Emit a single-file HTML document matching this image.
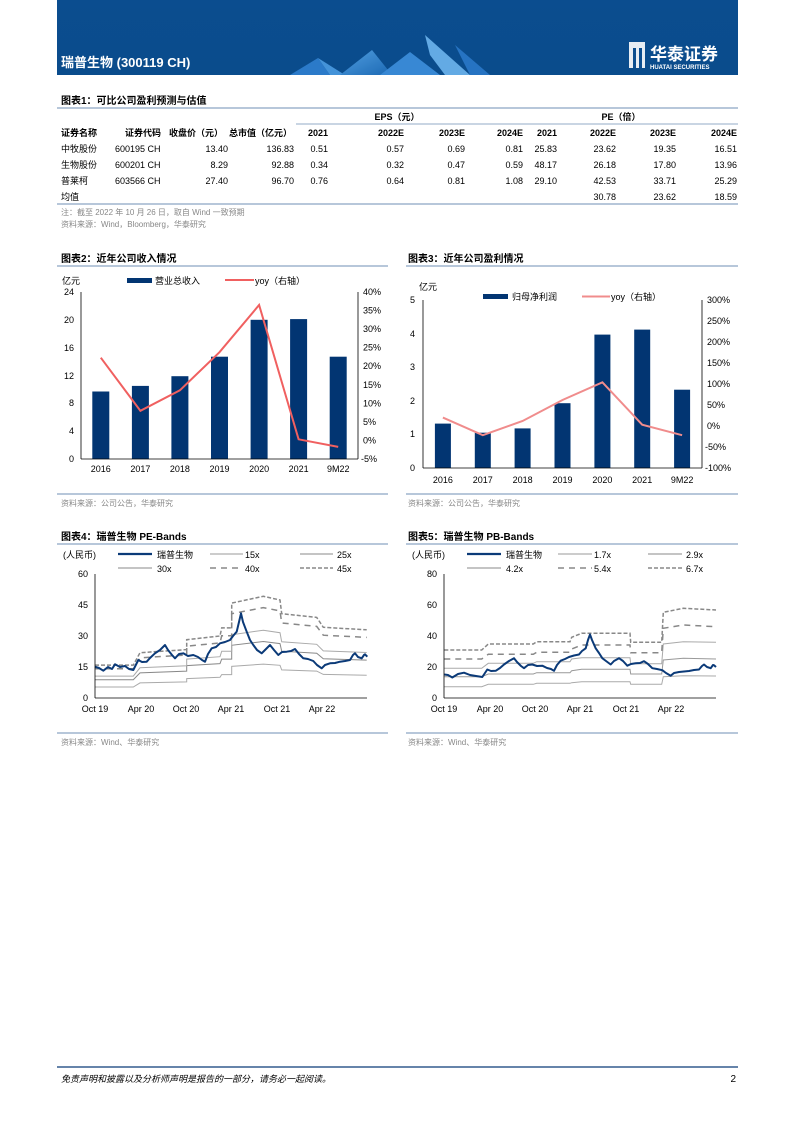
<!DOCTYPE html>
<html><head><meta charset="utf-8"><style>
body{margin:0;background:#fff;}
svg text{font-family:"Liberation Sans","Noto Sans CJK SC",sans-serif;}
</style></head><body>
<svg width="793" height="1122" viewBox="0 0 793 1122" xmlns="http://www.w3.org/2000/svg">
<defs>
<linearGradient id="bg" x1="0" y1="0" x2="0" y2="1"><stop offset="0" stop-color="#0b4d8f"/><stop offset="1" stop-color="#0a4c8c"/></linearGradient>
<linearGradient id="mt" x1="0" y1="0" x2="1" y2="1"><stop offset="0" stop-color="#5aa8ea"/><stop offset="1" stop-color="#1d6cb8"/></linearGradient>
</defs>
<rect x="57" y="0" width="681" height="75" fill="url(#bg)"/>
<g opacity="0.9">
<polygon points="290,75 318,58 330,75" fill="#2f7fd0"/>
<polygon points="318,58 345,75 330,75" fill="#4b9be2"/>
<polygon points="340,75 372,50 392,75" fill="url(#mt)"/>
<polygon points="380,75 410,52 440,75" fill="#3d8fdc"/>
<polygon points="425,35 470,75 445,75 430,55" fill="#6db5ee"/>
<polygon points="455,45 490,75 470,75" fill="#2a78c8"/>
</g>
<text x="61" y="67" fill="#fff" font-size="13" font-weight="bold">瑞普生物 (300119 CH)</text>
<rect x="629" y="42" width="16" height="26" fill="#fff" opacity="0.9"/>
<rect x="633" y="48" width="3" height="20" fill="#0b4d8f"/><rect x="639" y="48" width="3" height="20" fill="#0b4d8f"/>
<text x="650" y="60" fill="#fff" font-size="17" font-weight="bold">华泰证券</text>
<text x="650" y="69" fill="#fff" font-size="6" font-weight="bold">HUATAI SECURITIES</text>

<!-- table -->
<text x="61" y="104" font-size="10" font-weight="bold">图表1：可比公司盈利预测与估值</text>
<line x1="57" y1="108" x2="738" y2="108" stroke="#6f8fb5" stroke-width="1"/>
<g font-size="9" fill="#000">
<text x="397" y="120" text-anchor="middle" font-weight="bold">EPS（元）</text>
<text x="621" y="120" text-anchor="middle" font-weight="bold">PE（倍）</text>
<line x1="296" y1="124" x2="738" y2="124" stroke="#6f8fb5" stroke-width="0.8"/>
<g font-weight="bold">
<text x="61" y="136">证券名称</text><text x="125" y="136">证券代码</text><text x="169" y="136">收盘价（元）</text><text x="229" y="136">总市值（亿元）</text>
</g>
<g text-anchor="end" font-weight="bold">
<text x="328" y="136">2021</text><text x="404" y="136">2022E</text><text x="465" y="136">2023E</text><text x="523" y="136">2024E</text>
<text x="557" y="136">2021</text><text x="616" y="136">2022E</text><text x="676" y="136">2023E</text><text x="737" y="136">2024E</text>
</g>
<text x="61" y="152">中牧股份</text><text x="115" y="152">600195 CH</text>
<text x="61" y="168">生物股份</text><text x="115" y="168">600201 CH</text>
<text x="61" y="184">普莱柯</text><text x="115" y="184">603566 CH</text>
<text x="61" y="200">均值</text>
<g text-anchor="end">
<text x="228" y="152">13.40</text><text x="294" y="152">136.83</text><text x="328" y="152">0.51</text><text x="404" y="152">0.57</text><text x="465" y="152">0.69</text><text x="523" y="152">0.81</text><text x="557" y="152">25.83</text><text x="616" y="152">23.62</text><text x="676" y="152">19.35</text><text x="737" y="152">16.51</text>
<text x="228" y="168">8.29</text><text x="294" y="168">92.88</text><text x="328" y="168">0.34</text><text x="404" y="168">0.32</text><text x="465" y="168">0.47</text><text x="523" y="168">0.59</text><text x="557" y="168">48.17</text><text x="616" y="168">26.18</text><text x="676" y="168">17.80</text><text x="737" y="168">13.96</text>
<text x="228" y="184">27.40</text><text x="294" y="184">96.70</text><text x="328" y="184">0.76</text><text x="404" y="184">0.64</text><text x="465" y="184">0.81</text><text x="523" y="184">1.08</text><text x="557" y="184">29.10</text><text x="616" y="184">42.53</text><text x="676" y="184">33.71</text><text x="737" y="184">25.29</text>
<text x="616" y="200">30.78</text><text x="676" y="200">23.62</text><text x="737" y="200">18.59</text>
</g>
</g>
<line x1="57" y1="204" x2="738" y2="204" stroke="#6f8fb5" stroke-width="1"/>
<text x="61" y="215" font-size="8" fill="#888">注：截至 2022 年 10 月 26 日，取自 Wind 一致预期</text>
<text x="61" y="227" font-size="8" fill="#888">资料来源：Wind，Bloomberg，华泰研究</text>

<!-- chart 2 -->
<text x="61" y="262" font-size="10" font-weight="bold">图表2：近年公司收入情况</text>
<line x1="57" y1="266" x2="388" y2="266" stroke="#6f8fb5" stroke-width="1"/>
<g font-size="9">
<text x="62" y="284">亿元</text>
<rect x="127" y="278" width="25" height="5" fill="#023572"/><text x="155" y="284">营业总收入</text>
<line x1="225" y1="280" x2="254" y2="280" stroke="#f06060" stroke-width="2"/><text x="255" y="284">yoy（右轴）</text>
</g>
<g fill="#023572">
<rect x="92.3" y="391.5" width="17" height="67.5"/><rect x="131.9" y="385.9" width="17" height="73.1"/><rect x="171.4" y="376.2" width="17" height="82.8"/><rect x="211" y="356.7" width="17" height="102.3"/><rect x="250.6" y="319.8" width="17" height="139.2"/><rect x="290.1" y="319.1" width="17" height="139.9"/><rect x="329.7" y="356.7" width="17" height="102.3"/>
</g>
<polyline points="100.8,357.7 140.4,410.8 179.9,390.3 219.5,352.2 259.1,305 298.6,439.3 338.2,446.9" fill="none" stroke="#f06060" stroke-width="2"/>
<g stroke="#000" stroke-width="0.8">
<line x1="81" y1="292" x2="81" y2="459"/><line x1="358" y1="292" x2="358" y2="459"/><line x1="81" y1="459" x2="358" y2="459"/>
</g>
<g font-size="9" text-anchor="end">
<text x="74" y="295">24</text><text x="74" y="323">20</text><text x="74" y="351">16</text><text x="74" y="379">12</text><text x="74" y="406">8</text><text x="74" y="434">4</text><text x="74" y="462">0</text>
</g>
<g font-size="9">
<text x="363" y="295">40%</text><text x="363" y="313.6">35%</text><text x="363" y="332.1">30%</text><text x="363" y="350.7">25%</text><text x="363" y="369.2">20%</text><text x="363" y="387.8">15%</text><text x="363" y="406.3">10%</text><text x="363" y="424.9">5%</text><text x="363" y="443.4">0%</text><text x="361" y="462">-5%</text>
</g>
<g font-size="9" text-anchor="middle">
<text x="100.8" y="472">2016</text><text x="140.4" y="472">2017</text><text x="179.9" y="472">2018</text><text x="219.5" y="472">2019</text><text x="259.1" y="472">2020</text><text x="298.6" y="472">2021</text><text x="338.2" y="472">9M22</text>
</g>
<line x1="57" y1="494" x2="388" y2="494" stroke="#6f8fb5" stroke-width="1"/>
<text x="61" y="506" font-size="8" fill="#888">资料来源：公司公告，华泰研究</text>

<!-- chart 3 -->
<text x="408" y="262" font-size="10" font-weight="bold">图表3：近年公司盈利情况</text>
<line x1="406" y1="266" x2="738" y2="266" stroke="#6f8fb5" stroke-width="1"/>
<g font-size="9">
<text x="419" y="290">亿元</text>
<rect x="483" y="294" width="25" height="5" fill="#023572"/><text x="512" y="300">归母净利润</text>
<line x1="582" y1="296.5" x2="610" y2="296.5" stroke="#f08c8c" stroke-width="2"/><text x="611" y="300">yoy（右轴）</text>
</g>
<g fill="#023572">
<rect x="434.9" y="423.6" width="16" height="44.4"/><rect x="474.8" y="432.7" width="16" height="35.3"/><rect x="514.6" y="428.4" width="16" height="39.6"/><rect x="554.5" y="403.2" width="16" height="64.8"/><rect x="594.4" y="334.6" width="16" height="133.4"/><rect x="634.2" y="329.6" width="16" height="138.4"/><rect x="674.1" y="389.7" width="16" height="78.3"/>
</g>
<polyline points="442.9,417.6 482.8,435.2 522.6,421 562.5,400 602.4,382.3 642.2,424.7 682.1,435.2" fill="none" stroke="#f08c8c" stroke-width="2"/>
<g stroke="#000" stroke-width="0.8">
<line x1="423" y1="300" x2="423" y2="468"/><line x1="702" y1="300" x2="702" y2="468"/><line x1="423" y1="468" x2="702" y2="468"/>
</g>
<g font-size="9" text-anchor="end">
<text x="415" y="303">5</text><text x="415" y="337">4</text><text x="415" y="370">3</text><text x="415" y="404">2</text><text x="415" y="437">1</text><text x="415" y="471">0</text>
</g>
<g font-size="9">
<text x="707" y="303">300%</text><text x="707" y="324">250%</text><text x="707" y="345">200%</text><text x="707" y="366">150%</text><text x="707" y="387">100%</text><text x="707" y="408">50%</text><text x="707" y="429">0%</text><text x="705" y="450">-50%</text><text x="705" y="471">-100%</text>
</g>
<g font-size="9" text-anchor="middle">
<text x="442.9" y="483">2016</text><text x="482.8" y="483">2017</text><text x="522.6" y="483">2018</text><text x="562.5" y="483">2019</text><text x="602.4" y="483">2020</text><text x="642.2" y="483">2021</text><text x="682.1" y="483">9M22</text>
</g>
<line x1="406" y1="494" x2="738" y2="494" stroke="#6f8fb5" stroke-width="1"/>
<text x="408" y="506" font-size="8" fill="#888">资料来源：公司公告，华泰研究</text>

<!-- chart 4 -->
<text x="61" y="540" font-size="10" font-weight="bold">图表4：瑞普生物 PE-Bands</text>
<line x1="57" y1="544" x2="388" y2="544" stroke="#6f8fb5" stroke-width="1"/>
<g font-size="9">
<text x="63" y="558">(人民币)</text>
<line x1="118" y1="554" x2="152" y2="554" stroke="#0b3a78" stroke-width="2.2"/><text x="157" y="558">瑞普生物</text>
<line x1="210" y1="554" x2="243" y2="554" stroke="#999" stroke-width="1"/><text x="245" y="558">15x</text>
<line x1="300" y1="554" x2="333" y2="554" stroke="#888" stroke-width="1"/><text x="337" y="558">25x</text>
<line x1="118" y1="568" x2="152" y2="568" stroke="#888" stroke-width="1"/><text x="157" y="572">30x</text>
<line x1="210" y1="568" x2="243" y2="568" stroke="#888" stroke-width="1.5" stroke-dasharray="6,5"/><text x="245" y="572">40x</text>
<line x1="300" y1="568" x2="333" y2="568" stroke="#888" stroke-width="1.5" stroke-dasharray="4,2"/><text x="337" y="572">45x</text>
</g>
<g fill="none" stroke-width="1">
<polyline stroke="#aaa" points="95,687 133.3,687 140,682.9 186.7,681.9 186.7,678.6 220,677.3 221.7,674.6 231.7,674.6 231.7,666.4 263.3,664.1 280,665.3 281.7,669.9 316.7,671.1 323.3,674.4 366.7,675.3"/>
<polyline stroke="#888" points="95,679.7 133.3,679.7 140,672.9 186.7,671.1 186.7,665.6 220,663.6 221.7,659.1 231.7,659.1 231.7,645.3 263.3,641.5 280,643.6 281.7,651.2 316.7,653.2 323.3,658.7 366.7,660.1"/>
<polyline stroke="#aaa" points="95,676.1 133.3,676.1 140,667.8 186.7,665.8 186.7,659.1 220,656.7 221.7,651.3 231.7,651.3 231.7,634.8 263.3,630.2 280,632.7 281.7,641.8 316.7,644.3 323.3,650.9 366.7,652.5"/>
<polyline stroke="#888" stroke-width="1.5" stroke-dasharray="6,5" points="95,668.8 133.3,668.8 140,657.8 186.7,655 186.7,646.2 220,642.9 221.7,635.7 231.7,635.7 231.7,613.7 263.3,607.6 280,610.9 281.7,623 316.7,626.4 323.3,635.2 366.7,637.4"/>
<polyline stroke="#888" stroke-width="1.5" stroke-dasharray="4,2" points="95,665.1 133.3,665.1 140,652.7 186.7,649.6 186.7,639.7 220,636 221.7,627.9 231.7,627.9 231.7,603.1 263.3,596.3 280,600 281.7,613.7 316.7,617.4 323.3,627.3 366.7,629.8"/>
<polyline stroke="#0b3a78" stroke-width="2" stroke-linejoin="round" points="95,666.7 99,668 103.3,670.7 108,667 112,669 115,664.3 120,667 125,666 129,669 133.3,670 138.3,660 142,662 146.7,661.7 150,658 155,653.3 160,650 165,645 168,650 172,655 175,658.3 179,654 183.3,653.3 188,656 193.3,655 198,657 202,660 205,661.7 208,654 211.7,648.3 216,647 220,643.3 225,642 230,640 233,636 236.7,631.7 239,622 241,613.3 243,622 246.7,631.7 250,640 253.3,645 257,650 261.7,653.3 265,650 270,645 274,650 278.3,655 282,652 286.7,651.7 291,651 295,649 299,654 303.3,658.3 308,659 313.3,661 317,665 321.7,668.3 325,665 330,663.3 335,663 340,661.7 345,661 350,660 353,655 355,653.3 358,657 361.7,658.3 364,655 365,654.3 367.3,656.7"/>
</g>
<g stroke="#000" stroke-width="0.8"><line x1="95" y1="574" x2="95" y2="698"/><line x1="95" y1="698" x2="367" y2="698"/></g>
<g font-size="9" text-anchor="end">
<text x="88" y="577">60</text><text x="88" y="608">45</text><text x="88" y="639">30</text><text x="88" y="670">15</text><text x="88" y="701">0</text>
</g>
<g font-size="9" text-anchor="middle">
<text x="95" y="712">Oct 19</text><text x="141" y="712">Apr 20</text><text x="186" y="712">Oct 20</text><text x="231" y="712">Apr 21</text><text x="277" y="712">Oct 21</text><text x="322" y="712">Apr 22</text>
</g>
<line x1="57" y1="733" x2="388" y2="733" stroke="#6f8fb5" stroke-width="1"/>
<text x="61" y="745" font-size="8" fill="#888">资料来源：Wind、华泰研究</text>

<!-- chart 5 -->
<text x="408" y="540" font-size="10" font-weight="bold">图表5：瑞普生物 PB-Bands</text>
<line x1="406" y1="544" x2="738" y2="544" stroke="#6f8fb5" stroke-width="1"/>
<g font-size="9">
<text x="412" y="558">(人民币)</text>
<line x1="467" y1="554" x2="501" y2="554" stroke="#0b3a78" stroke-width="2.2"/><text x="506" y="558">瑞普生物</text>
<line x1="558" y1="554" x2="592" y2="554" stroke="#999" stroke-width="1"/><text x="594" y="558">1.7x</text>
<line x1="648" y1="554" x2="682" y2="554" stroke="#888" stroke-width="1"/><text x="686" y="558">2.9x</text>
<line x1="467" y1="568" x2="501" y2="568" stroke="#888" stroke-width="1"/><text x="506" y="572">4.2x</text>
<line x1="558" y1="568" x2="592" y2="568" stroke="#888" stroke-width="1.5" stroke-dasharray="6,5"/><text x="594" y="572">5.4x</text>
<line x1="648" y1="568" x2="682" y2="568" stroke="#888" stroke-width="1.5" stroke-dasharray="4,2"/><text x="686" y="572">6.7x</text>
</g>
<g fill="none" stroke-width="1">
<polyline stroke="#aaa" points="444.3,686.7 481.7,686.7 488.3,684.3 533.3,684.3 536.7,683.3 570,683.3 571.7,682.7 581.7,681.7 630,681.7 630.7,684.3 661.7,684.3 663.3,676.7 683.3,675.7 716,676"/>
<polyline stroke="#999" points="444.3,676.7 481.7,676.7 488.3,674 533.3,674 536.7,672.7 570,672.7 571.7,670.7 581.7,669.3 630,669.3 630.7,674 661.7,674 663.3,660 683.3,658.3 716,659"/>
<polyline stroke="#aaa" points="444.3,668.3 481.7,668.3 488.3,663.3 533.3,663.3 536.7,661.7 570,661.7 571.7,659 581.7,657.7 630,657.7 630.7,663.7 661.7,663.7 663.3,644 683.3,641.7 716,642.3"/>
<polyline stroke="#888" stroke-width="1.5" stroke-dasharray="6,5" points="444.3,659 481.7,659 488.3,654.3 533.3,654.3 536.7,652.3 570,652.3 571.7,649 581.7,645 630,645 630.7,652.7 661.7,652.7 663.3,628.3 683.3,625 716,626.7"/>
<polyline stroke="#888" stroke-width="1.5" stroke-dasharray="4,2" points="444.3,650 481.7,650 488.3,644 533.3,644 536.7,641.7 570,641.7 571.7,637.3 581.7,633.3 630,633.3 630.7,642.3 661.7,642.3 663.3,612.3 683.3,608.3 716,610"/>
<polyline stroke="#0b3a78" stroke-width="2" stroke-linejoin="round" points="444.3,674.5 448,675 452.3,677.5 458,674 464,672.7 470,675 476,676 482.3,677 487.3,669.5 491,671 495.7,670.8 500,668 504,664.5 509,661 514,658.2 517,662 521,666 524,668.2 528,665 532.3,664.5 537,666 542.3,665.7 547,668 551,669 554,670.8 557,665 560.7,660.7 565,659 569,657 574,655.5 579,654.5 582,651 585.7,648.3 588,640 590,634.5 592,640 595.7,648.3 599,653 602.3,658.2 606,661 610.7,664.5 614,661 619,658.2 623,661 627.3,665.7 631,664 635.7,663.3 640,663 644,661.2 648,664 652.3,668.2 657,669 662.3,670.2 666,673 670.7,675.7 674,673 679,672 684,671.5 689,671 694,670 699,669.5 702,666 704,664.5 707,667 710.7,668.2 713,665 714,665.2 716,667"/>
</g>
<g stroke="#000" stroke-width="0.8"><line x1="444" y1="574" x2="444" y2="698"/><line x1="444" y1="698" x2="716" y2="698"/></g>
<g font-size="9" text-anchor="end">
<text x="437" y="577">80</text><text x="437" y="608">60</text><text x="437" y="639">40</text><text x="437" y="670">20</text><text x="437" y="701">0</text>
</g>
<g font-size="9" text-anchor="middle">
<text x="444" y="712">Oct 19</text><text x="490" y="712">Apr 20</text><text x="535" y="712">Oct 20</text><text x="580" y="712">Apr 21</text><text x="626" y="712">Oct 21</text><text x="671" y="712">Apr 22</text>
</g>
<line x1="406" y1="733" x2="738" y2="733" stroke="#6f8fb5" stroke-width="1"/>
<text x="408" y="745" font-size="8" fill="#888">资料来源：Wind、华泰研究</text>

<!-- footer -->
<line x1="57" y1="1067" x2="738" y2="1067" stroke="#0b3a78" stroke-width="1.2"/>
<text x="61" y="1082" font-size="9" font-style="italic">免责声明和披露以及分析师声明是报告的一部分，请务必一起阅读。</text>
<text x="736" y="1082" font-size="10" text-anchor="end">2</text>
</svg>
</body></html>
